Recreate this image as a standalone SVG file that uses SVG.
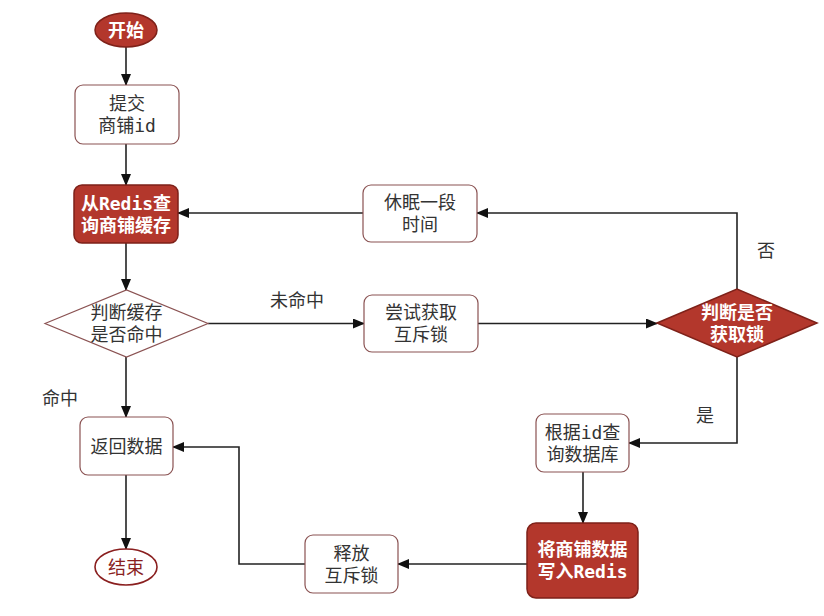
<svg xmlns="http://www.w3.org/2000/svg" width="824" height="616" viewBox="0 0 824 616">
<defs>
<marker id="arr" markerWidth="12" markerHeight="10" refX="11" refY="5" orient="auto" markerUnits="userSpaceOnUse">
<path d="M0,0 L12,5 L0,10 Z" fill="#111"/>
</marker>
<style>
text{font-family:"DejaVu Sans Mono","Noto Sans CJK SC",monospace;font-size:18px;text-anchor:middle;dominant-baseline:central;fill:#333}
.red{fill:#b3372c;stroke:#7e2119;stroke-width:1.5}
.wb{fill:#fff;stroke:#8a5252;stroke-width:1.2}
.wt{fill:#fff;font-weight:bold}
.conn path{fill:none;stroke:#222;stroke-width:1.6;marker-end:url(#arr)}
.conn path.nm{marker-end:none}
.lbl{fill:#333}
</style>
</defs>
<rect width="824" height="616" fill="#fff"/>
<g class="conn" id="connectors">
<path d="M126 47 V85"/>
<path d="M126 144 V185"/>
<path d="M126 243 V290"/>
<path d="M126 357 V417"/>
<path d="M126 475 V549"/>
<path d="M208 323.5 H364"/>
<path d="M478 323.5 H657"/>
<path d="M737 289 V213 H477"/>
<path d="M363 213 H178"/>
<path d="M737 357 V443 H629"/>
<path d="M583 472 V523"/>
<path d="M527 564 H398"/>
<path d="M305 564 H239 V447 H173"/>
</g>
<g id="start"><ellipse cx="126" cy="30" rx="31" ry="17" class="red"/><text x="126" y="30" class="wt">开始</text></g>
<g id="submit"><rect x="75" y="85" width="104" height="59" rx="8" class="wb"/><text x="127" y="103">提交</text><text x="127" y="125">商铺id</text></g>
<g id="query-redis"><rect x="74" y="185" width="104" height="58" rx="8" class="red"/><text x="126" y="203" class="wt">从Redis查</text><text x="126" y="225" class="wt">询商铺缓存</text></g>
<g id="check-hit"><polygon points="45,323.5 126.5,290 208,323.5 126.5,357" class="wb"/><text x="126.5" y="312">判断缓存</text><text x="126.5" y="334">是否命中</text></g>
<g id="return"><rect x="80" y="417" width="93" height="58" rx="8" class="wb"/><text x="126.5" y="446">返回数据</text></g>
<g id="end"><ellipse cx="126" cy="567" rx="31" ry="18" fill="#fff" stroke="#8a1f1f" stroke-width="1.6"/><text x="126" y="567" style="fill:#8a1f1f">结束</text></g>
<g id="sleep"><rect x="363" y="185" width="114" height="57" rx="8" class="wb"/><text x="420" y="202">休眠一段</text><text x="420" y="224">时间</text></g>
<g id="try-lock"><rect x="364" y="295" width="114" height="57" rx="8" class="wb"/><text x="421" y="312">尝试获取</text><text x="421" y="334">互斥锁</text></g>
<g id="check-lock"><polygon points="657,323 737,289 817,323 737,357" class="red"/><text x="737" y="312" class="wt">判断是否</text><text x="737" y="334" class="wt">获取锁</text></g>
<g id="query-db"><rect x="536" y="414" width="93" height="58" rx="8" class="wb"/><text x="582.5" y="432">根据id查</text><text x="582.5" y="454">询数据库</text></g>
<g id="write-redis"><rect x="527" y="523" width="111" height="75" rx="9" class="red"/><text x="582.5" y="549" class="wt">将商铺数据</text><text x="582.5" y="571" class="wt">写入Redis</text></g>
<g id="release"><rect x="305" y="535" width="93" height="58" rx="8" class="wb"/><text x="351.5" y="553">释放</text><text x="351.5" y="575">互斥锁</text></g>
<g id="labels">
<text x="297" y="300" class="lbl">未命中</text>
<text x="766" y="250" class="lbl">否</text>
<text x="705" y="415" class="lbl">是</text>
<text x="60" y="398" class="lbl">命中</text>
</g>
</svg>
